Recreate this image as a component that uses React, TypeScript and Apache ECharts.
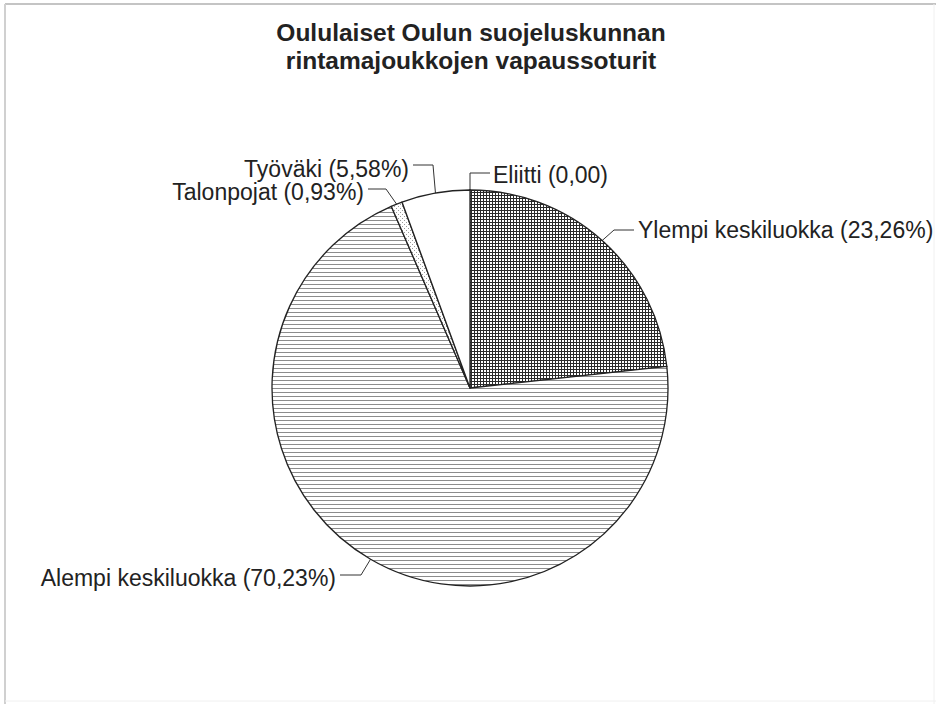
import React, { useEffect, useRef } from 'react';
import * as echarts from 'echarts';

// ---- data ----
const TITLE_LINES = ['Oululaiset Oulun suojeluskunnan', 'rintamajoukkojen vapaussoturit'];
const CATEGORIES = ['Eliitti', 'Ylempi keskiluokka', 'Alempi keskiluokka', 'Talonpojat', 'Työväki'];
const SHARES = [0, 23.26, 70.23, 0.93, 5.58];
const SHOW_PERCENT = [false, true, true, true, true];

// ---- label placement (layout only) ----
const LABEL_PLACEMENT: { x: number; y: number; align: string; elbow: number[]; end: number[] }[] = [
  { x: 493, y: 175, align: 'left', elbow: [470, 173], end: [490, 173] },
  { x: 638, y: 230, align: 'left', elbow: [614, 230], end: [634, 230] },
  { x: 336, y: 578, align: 'right', elbow: [361, 575], end: [340, 575] },
  { x: 364, y: 192, align: 'right', elbow: [386, 189], end: [368, 189] },
  { x: 409, y: 169, align: 'right', elbow: [433, 165], end: [413, 165] },
];

type Drawer = (ctx: CanvasRenderingContext2D, w: number, h: number) => void;
function makePattern(w: number, h: number, draw: Drawer): any {
  const c = document.createElement('canvas');
  c.width = w;
  c.height = h;
  const ctx = c.getContext('2d')!;
  ctx.fillStyle = '#ffffff';
  ctx.fillRect(0, 0, w, h);
  draw(ctx, w, h);
  return { image: c, repeat: 'repeat', imageWidth: w, imageHeight: h };
}

function fmt(v: number, pct: boolean) {
  return v.toFixed(2).replace('.', ',') + (pct ? '%' : '');
}

export default function App() {
  const ref = useRef<HTMLDivElement>(null);

  useEffect(() => {
    if (!ref.current) return;
    const chart = echarts.init(ref.current, undefined, { renderer: 'svg' });

    const grid = makePattern(3, 3, (ctx) => {
      ctx.fillStyle = '#2a2a2a';
      ctx.fillRect(0, 0, 3, 1);
      ctx.fillRect(0, 0, 1, 3);
    });
    const hlines = makePattern(4, 4, (ctx) => {
      ctx.fillStyle = '#8c8c8c';
      ctx.fillRect(0, 0, 4, 1);
    });
    const dots = makePattern(4, 4, (ctx) => {
      ctx.fillStyle = '#9a9a9a';
      ctx.fillRect(0, 0, 1, 1);
      ctx.fillRect(2, 2, 1, 1);
    });
    const fills = ['#ffffff', grid, hlines, dots, '#ffffff'];

    const data = CATEGORIES.map((name, i) => ({
      name,
      value: SHARES[i],
      itemStyle: { color: fills[i] },
    }));

    chart.setOption({
      animation: false,
      backgroundColor: '#ffffff',
      graphic: [
        {
          type: 'line',
          shape: { x1: 5, y1: 4, x2: 936, y2: 4 },
          style: { stroke: '#c4c4c4', lineWidth: 2 },
          silent: true,
        },
        {
          type: 'line',
          shape: { x1: 5, y1: 4, x2: 5, y2: 704 },
          style: { stroke: '#d0d0d0', lineWidth: 2 },
          silent: true,
        },
        {
          type: 'line',
          shape: { x1: 934, y1: 4, x2: 934, y2: 704 },
          style: { stroke: '#f0f0f0', lineWidth: 1 },
          silent: true,
        },
        {
          type: 'line',
          shape: { x1: 5, y1: 701, x2: 936, y2: 701 },
          style: { stroke: '#f0f0f0', lineWidth: 1 },
          silent: true,
        },
        {
          type: 'text',
          x: 471,
          y: 18,
          silent: true,
          style: {
            text: TITLE_LINES.join('\n'),
            fill: '#222222',
            font: 'bold 24.5px "Liberation Sans", Arial, sans-serif',
            textAlign: 'center',
            textVerticalAlign: 'top',
            lineHeight: 28,
          },
        },
      ],
      series: [
        {
          type: 'pie',
          center: [470, 388],
          radius: 198,
          startAngle: 90,
          clockwise: true,
          avoidLabelOverlap: false,
          silent: true,
          emphasis: { disabled: true },
          itemStyle: { borderColor: '#222222', borderWidth: 1.3 },
          label: {
            show: true,
            position: 'outside',
            color: '#222222',
            fontFamily: '"Liberation Sans", Arial, sans-serif',
            fontSize: 23,
            lineHeight: 21,
            formatter: (p: any) => `${p.name} (${fmt(p.value, SHOW_PERCENT[p.dataIndex])})`,
          },
          labelLine: {
            show: true,
            length: 10,
            length2: 10,
            lineStyle: { color: '#333333', width: 1 },
          },
          labelLayout: (params: any) => {
            const cfg = LABEL_PLACEMENT[params.dataIndex];
            const pts = params.labelLinePoints;
            const anchor = pts && pts[0] ? pts[0] : cfg.elbow;
            return {
              x: cfg.x,
              y: cfg.y,
              align: cfg.align,
              verticalAlign: 'middle',
              labelLinePoints: [anchor, cfg.elbow, cfg.end],
            };
          },
          data,
        },
      ],
    });

    return () => chart.dispose();
  }, []);

  return (
    <div
      ref={ref}
      style={{ position: 'absolute', left: 0, top: 0, width: 936, height: 704 }}
    />
  );
}
